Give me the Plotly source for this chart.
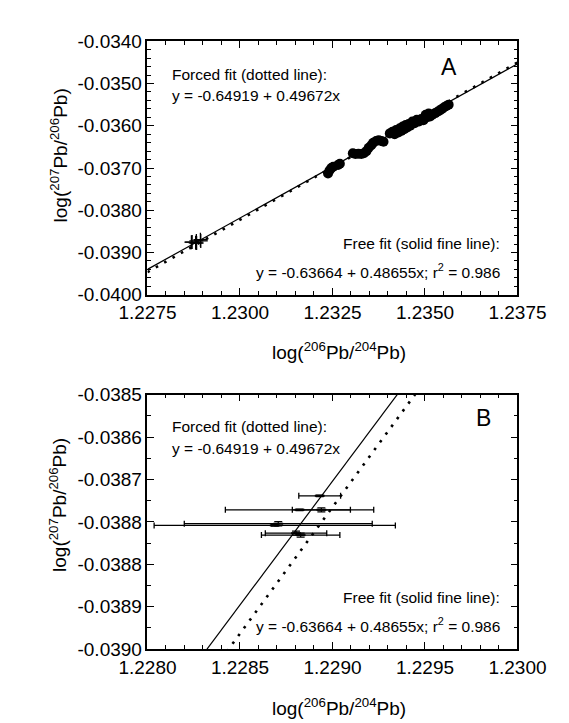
import plotly.graph_objects as go

# fit coefficients (from the annotations)
free_a, free_b = -0.63664, 0.48655
forced_a, forced_b = -0.64919, 0.49672

# filled circles (panel A)
pts_x = [1.23238, 1.23242, 1.23247, 1.23252, 1.23265, 1.23270,
         1.23305, 1.23312, 1.23320, 1.23328, 1.23335, 1.23342, 1.23348,
         1.23355, 1.23360, 1.23368, 1.23375, 1.23382, 1.23388,
         1.23405, 1.23412, 1.23418, 1.23422, 1.23428, 1.23432, 1.23436,
         1.23440, 1.23444, 1.23448, 1.23452, 1.23456, 1.23460, 1.23466,
         1.23472, 1.23478, 1.23484, 1.23490, 1.23496, 1.23502, 1.23506,
         1.23510, 1.23514, 1.23520, 1.23528, 1.23535, 1.23540, 1.23546,
         1.23552, 1.23558, 1.23564]
pts_y = [-0.03713, -0.03706, -0.03700, -0.03697, -0.03693, -0.03690,
         -0.03665, -0.03667, -0.03666, -0.03667, -0.03665, -0.03660, -0.03652,
         -0.03646, -0.03640, -0.03636, -0.03634, -0.03636, -0.03638,
         -0.03618, -0.03614, -0.03620, -0.03610, -0.03616, -0.03606, -0.03612,
         -0.03602, -0.03608, -0.03598, -0.03604, -0.03596, -0.03600, -0.03590,
         -0.03594, -0.03586, -0.03590, -0.03584, -0.03587, -0.03574, -0.03580,
         -0.03571, -0.03578, -0.03574, -0.03570, -0.03566, -0.03564, -0.03560,
         -0.03556, -0.03553, -0.03550]

# points with error bars (crosses in A, error bars in B)
err_x = [1.228931, 1.228822, 1.228940, 1.228688, 1.228707, 1.228828, 1.228803]
err_y = [-0.0386987, -0.0387262, -0.0387262, -0.0387568, -0.0387535, -0.0387759, -0.0387721]
err_dx = [0.000113, 0.000401, 0.000157, 0.000652, 0.000508, 0.000212, 0.000166]
err_dy = [0.0000015, 0.0000015, 0.000004, 0.0000015, 0.000004, 0.000004, 0.000004]

xrange_a = [1.2275, 1.2375]
yrange_a = [-0.0400, -0.0340]
xrange_b = [1.2280, 1.2300]
yrange_b = [-0.0390, -0.0385]
b_ticktext = ['-0.0385', '-0.0386', '-0.0387', '-0.0388', '-0.0388', '-0.0389', '-0.0390']

FONT = 'Liberation Sans, Arial, sans-serif'
W, H = 569, 723

fig = go.Figure()


def add_lines(xa, ya, xr):
    fx = [xr[0], xr[1]]
    fig.add_trace(go.Scatter(x=fx, y=[forced_a + forced_b * v for v in fx],
                             mode='lines', xaxis=xa, yaxis=ya,
                             line=dict(color='black', width=2.6, dash='2.6px,7px')))
    fig.add_trace(go.Scatter(x=fx, y=[free_a + free_b * v for v in fx],
                             mode='lines', xaxis=xa, yaxis=ya,
                             line=dict(color='black', width=1.2)))


# panel A
add_lines('x', 'y', xrange_a)
fig.add_trace(go.Scatter(x=pts_x, y=pts_y, mode='markers', xaxis='x', yaxis='y',
                         marker=dict(color='black', size=10, line=dict(width=0))))
fig.add_trace(go.Scatter(x=err_x, y=err_y, mode='markers', xaxis='x', yaxis='y',
                         marker=dict(symbol='cross-thin-open', size=10, color='black',
                                     line=dict(color='black', width=1.3))))

# panel B
add_lines('x2', 'y2', xrange_b)
fig.add_trace(go.Scatter(
    x=err_x, y=err_y, mode='markers', xaxis='x2', yaxis='y2',
    marker=dict(symbol='line-ew-open', size=7, color='black', line=dict(color='black', width=2)),
    error_x=dict(type='data', array=err_dx, color='black', thickness=1.3, width=3),
    error_y=dict(type='data', array=err_dy, color='black', thickness=1.3, width=4)))

ax_common = dict(showline=True, linecolor='black', linewidth=1.5, mirror='ticks',
                 ticks='inside', ticklen=7, tickwidth=1.3, tickcolor='black',
                 showgrid=False, zeroline=False,
                 tickfont=dict(family=FONT, size=19, color='black'))


def px_x(p):
    return p / W


def px_y(p):
    return 1 - p / H


fig.update_layout(
    width=W, height=H, showlegend=False,
    margin=dict(l=0, r=0, t=0, b=0),
    paper_bgcolor='white', plot_bgcolor='white',
    xaxis=dict(ax_common, domain=[px_x(123), px_x(535)], range=xrange_a,
               tickvals=[1.2275, 1.2300, 1.2325, 1.2350, 1.2375],
               ticktext=['1.2275', '1.2300', '1.2325', '1.2350', '1.2375'],
               minor=dict(dtick=0.0005, ticks='inside', ticklen=4, tickcolor='black'),
               anchor='y'),
    yaxis=dict(ax_common, domain=[px_y(285), px_y(24)], range=yrange_a,
               tickvals=[-0.0400, -0.0390, -0.0380, -0.0370, -0.0360, -0.0350, -0.0340],
               ticktext=['-0.0400', '-0.0390', '-0.0380', '-0.0370', '-0.0360', '-0.0350', '-0.0340'],
               minor=dict(dtick=0.0002, ticks='inside', ticklen=4, tickcolor='black'),
               anchor='x'),
    xaxis2=dict(ax_common, domain=[px_x(123), px_x(535)], range=xrange_b,
                tickvals=[1.2280, 1.2285, 1.2290, 1.2295, 1.2300],
                ticktext=['1.2280', '1.2285', '1.2290', '1.2295', '1.2300'],
                minor=dict(dtick=0.0001, ticks='inside', ticklen=4, tickcolor='black'),
                anchor='y2'),
    yaxis2=dict(ax_common, domain=[px_y(650), px_y(388)], range=yrange_b,
                tickvals=[-0.0385 - i * 0.0005 / 6 for i in range(7)],
                ticktext=b_ticktext,
                minor=dict(tick0=-0.0385, dtick=0.0005 / 12, ticks='inside', ticklen=4,
                           tickcolor='black'),
                anchor='x2'),
)

xlab = 'log(<sup>206</sup>Pb/<sup>204</sup>Pb)'
ylab = 'log(<sup>207</sup>Pb/<sup>206</sup>Pb)'


def note(text, x, y, size=15.5, xanchor='left', angle=0):
    fig.add_annotation(text=text, x=px_x(x), y=px_y(y), xref='paper', yref='paper',
                       xanchor=xanchor, yanchor='middle', showarrow=False, textangle=angle,
                       font=dict(family=FONT, size=size, color='black'))


# panel A
note('Forced fit (dotted line):', 148, 58)
note('y = -0.64919 + 0.49672x', 148, 80)
note('Free fit (solid fine line):', 518, 232, xanchor='right')
note('y = -0.63664 + 0.48655x; r<sup>2</sup> = 0.986', 518, 261, xanchor='right')
note('A', 459, 50, size=23, xanchor='center')
note(xlab, 336, 343, size=19, xanchor='center')
note(ylab, 24, 142, size=19, xanchor='center', angle=-90)

# panel B
note('Forced fit (dotted line):', 148, 421)
note('y = -0.64919 + 0.49672x', 148, 443)
note('Free fit (solid fine line):', 518, 597, xanchor='right')
note('y = -0.63664 + 0.48655x; r<sup>2</sup> = 0.986', 518, 625, xanchor='right')
note('B', 497, 412, size=23, xanchor='center')
note(xlab, 336, 710, size=19, xanchor='center')
note(ylab, 24, 502, size=19, xanchor='center', angle=-90)

fig.write_html('out.html')
